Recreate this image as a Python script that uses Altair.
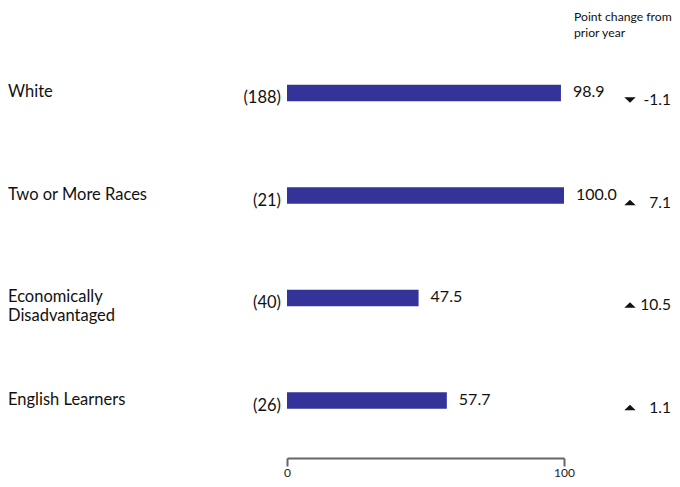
import altair as alt
import pandas as pd

categories = ["White", "Two or More Races", "Economically\nDisadvantaged", "English Learners"]
counts = ["(188)", "(21)", "(40)", "(26)"]
values = [98.9, 100.0, 47.5, 57.7]
value_labels = ["98.9", "100.0", "47.5", "57.7"]
changes = ["-1.1", "7.1", "10.5", "1.1"]
directions = ["down", "up", "up", "up"]

df = pd.DataFrame({
    "cat": categories,
    "count": counts,
    "value": values,
    "vlabel": value_labels,
    "change": changes,
    "dir": directions,
})

FONT = "Lato"
BAR = "#333399"
FS = 16.5

y_enc = alt.Y("cat:N", sort=categories,
              scale=alt.Scale(type="point", domain=categories, range=[85, 392.5], padding=0),
              axis=None)
x_scale = alt.Scale(domain=[0, 100], range=[279, 556])

base = alt.Chart(df)

bars = base.mark_bar(size=16.5, color=BAR).encode(
    x=alt.X("value:Q", scale=x_scale,
            axis=alt.Axis(values=[0, 100], title=None, grid=False,
                          domainColor="#666666", domainWidth=2,
                          tickColor="#666666", tickWidth=2, tickSize=8,
                          labelFont=FONT, labelFontSize=12, labelColor="#222222",
                          labelPadding=1, labelFlush=False)),
    x2=alt.datum(0),
    y=y_enc,
)

cat_text = base.mark_text(align="left", baseline="middle", font=FONT, fontSize=FS,
                          color="#111111", dy=-1, lineBreak="\n", lineHeight=19).encode(
    x=alt.value(0), y=y_enc, text="cat:N")

count_text = base.mark_text(align="right", baseline="middle", font=FONT, fontSize=FS,
                            color="#111111", dx=-6, dy=5).encode(
    x=alt.datum(0), y=y_enc, text="count:N")

val_text = base.mark_text(align="left", baseline="middle", font=FONT, fontSize=16,
                          color="#111111", dx=12, dy=-1).encode(
    x=alt.X("value:Q"), y=y_enc, text="vlabel:N")

tri = base.mark_point(filled=True, color="#111111", size=130, opacity=1, yOffset=7).encode(
    x=alt.value(622), y=y_enc,
    shape=alt.Shape("dir:N",
                    scale=alt.Scale(domain=["up", "down"],
                                    range=["M-1,0.5L1,0.5L0,-0.5Z", "M-1,-0.5L1,-0.5L0,0.5Z"]),
                    legend=None))

chg_text = base.mark_text(align="right", baseline="middle", font=FONT, fontSize=15.5,
                          color="#111111", dy=7).encode(
    x=alt.value(663), y=y_enc, text="change:N")

header = alt.Chart(pd.DataFrame({"t": ["Point change from\nprior year"]})).mark_text(
    align="left", baseline="top", font=FONT, fontSize=12.2, color="#111111",
    lineBreak="\n", lineHeight=16).encode(
    x=alt.value(566), y=alt.value(3), text="t:N")

chart = alt.layer(bars, cat_text, count_text, val_text, tri, chg_text, header).properties(
    width=664, height=450,
    autosize=alt.AutoSizeParams(type="none"),
    padding={"left": 0, "top": 0, "right": 0, "bottom": 21},
).configure(font=FONT).configure_view(stroke="transparent", strokeWidth=0)

chart.save("out.html", embed_options={"renderer": "svg", "actions": False})
